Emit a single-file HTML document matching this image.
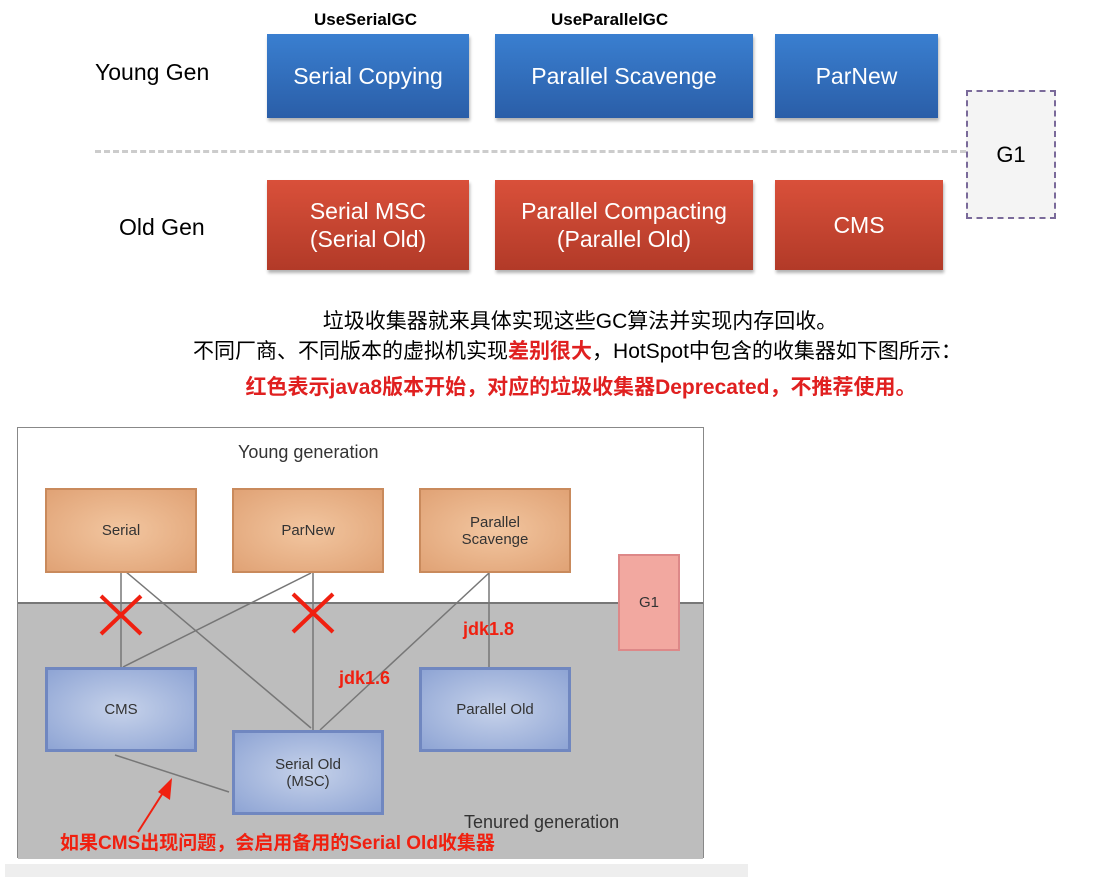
<!DOCTYPE html>
<html><head><meta charset="utf-8"><style>
body{margin:0;width:1099px;height:881px;background:#fff;position:relative;overflow:hidden;font-family:"Liberation Sans","Noto Sans CJK SC",sans-serif}
.a{position:absolute}
.b{position:absolute;color:#fff;display:flex;align-items:center;justify-content:center;text-align:center;font-size:23px;line-height:28px;box-shadow:1px 3px 3px rgba(0,0,0,.3)}
.bl{background:linear-gradient(#3a7fd0,#2a5ea8)}
.rd{background:linear-gradient(#d9503a,#b23a28)}
.o{position:absolute;background:radial-gradient(#f2c6a0,#e0a275);border:2px solid #c98a5c;display:flex;align-items:center;justify-content:center;text-align:center;font-size:15px;color:#333;box-sizing:border-box}
.u{position:absolute;background:radial-gradient(#c6d2ea,#8ea4d4);border:3px solid #7087c0;display:flex;align-items:center;justify-content:center;text-align:center;font-size:15px;color:#333;box-sizing:border-box}
</style></head><body>
<div class="a" style="left:314px;top:10px;font-weight:bold;font-size:17px">UseSerialGC</div>
<div class="a" style="left:551px;top:10px;font-weight:bold;font-size:17px">UseParallelGC</div>
<div class="a" style="left:95px;top:59px;font-size:23px">Young Gen</div>
<div class="a" style="left:119px;top:214px;font-size:23px">Old Gen</div>
<div class="b bl" style="left:267px;top:34px;width:202px;height:84px">Serial Copying</div>
<div class="b bl" style="left:495px;top:34px;width:258px;height:84px">Parallel Scavenge</div>
<div class="b bl" style="left:775px;top:34px;width:163px;height:84px">ParNew</div>
<div class="b rd" style="left:267px;top:180px;width:202px;height:90px">Serial MSC<br>(Serial Old)</div>
<div class="b rd" style="left:495px;top:180px;width:258px;height:90px">Parallel Compacting<br>(Parallel Old)</div>
<div class="b rd" style="left:775px;top:180px;width:168px;height:90px">CMS</div>
<div class="a" style="left:95px;top:150px;width:871px;border-top:3px dashed #ccc"></div>
<div class="a" style="left:966px;top:90px;width:86px;height:125px;border:2px dashed #7a6a9a;background:#f4f4f4;display:flex;align-items:center;justify-content:center;font-size:22px">G1</div>
<div class="a" style="left:0;width:1160px;top:305px;text-align:center;font-size:21px">垃圾收集器就来具体实现这些GC算法并实现内存回收。</div>
<div class="a" style="left:0;width:1155px;top:335px;text-align:center;font-size:21px">不同厂商、不同版本的虚拟机实现<b style="color:#e02020">差别很大</b>，HotSpot中包含的收集器如下图所示：</div>
<div class="a" style="left:0;width:1162px;top:371px;text-align:center;font-size:21px;color:#e02020;font-weight:bold">红色表示java8版本开始，对应的垃圾收集器Deprecated，不推荐使用。</div>
<div class="a" style="left:5px;top:864px;width:743px;height:13px;background:#eee"></div>
<div class="a" style="left:17px;top:427px;width:685px;height:429px;border:1px solid #888;background:#fff">
 <div class="a" style="left:0;top:174px;width:685px;height:255px;background:#bdbdbd;border-top:2px solid #777"></div>
</div>
<div class="a" style="left:238px;top:442px;font-size:18px;color:#333">Young generation</div>
<div class="a" style="left:464px;top:812px;font-size:18px;color:#333">Tenured generation</div>
<svg class="a" style="left:0;top:0" width="1099" height="881">
<g stroke="#777" stroke-width="1.5">
<line x1="121" y1="571" x2="121" y2="667"/><line x1="125" y1="571" x2="311" y2="728"/>
<line x1="311" y1="573" x2="123" y2="667"/><line x1="313" y1="573" x2="313" y2="730"/>
<line x1="489" y1="573" x2="320" y2="730"/><line x1="489" y1="573" x2="489" y2="667"/>
<line x1="115" y1="755" x2="229" y2="792"/></g>
<g stroke="#f02010" stroke-width="4"><line x1="101" y1="596" x2="141" y2="634"/><line x1="141" y1="596" x2="101" y2="634"/>
<line x1="293" y1="594" x2="333" y2="632"/><line x1="333" y1="594" x2="293" y2="632"/></g>
<line x1="138" y1="832" x2="166" y2="788" stroke="#f02010" stroke-width="2"/>
<polygon points="172,778 170,800 158,792" fill="#f02010"/>
</svg>
<div class="o" style="left:45px;top:488px;width:152px;height:85px">Serial</div>
<div class="o" style="left:232px;top:488px;width:152px;height:85px">ParNew</div>
<div class="o" style="left:419px;top:488px;width:152px;height:85px">Parallel<br>Scavenge</div>
<div class="o" style="left:618px;top:554px;width:62px;height:97px;background:#f2a8a0;border-color:#d88">G1</div>
<div class="u" style="left:45px;top:667px;width:152px;height:85px">CMS</div>
<div class="u" style="left:232px;top:730px;width:152px;height:85px">Serial Old<br>(MSC)</div>
<div class="u" style="left:419px;top:667px;width:152px;height:85px">Parallel Old</div>
<div class="a" style="left:463px;top:619px;color:#f02010;font-weight:bold;font-size:18px">jdk1.8</div>
<div class="a" style="left:339px;top:668px;color:#f02010;font-weight:bold;font-size:18px">jdk1.6</div>
<div class="a" style="left:60px;top:828px;color:#f02010;font-weight:bold;font-size:19px">如果CMS出现问题，会启用备用的Serial Old收集器</div>
</body></html>
